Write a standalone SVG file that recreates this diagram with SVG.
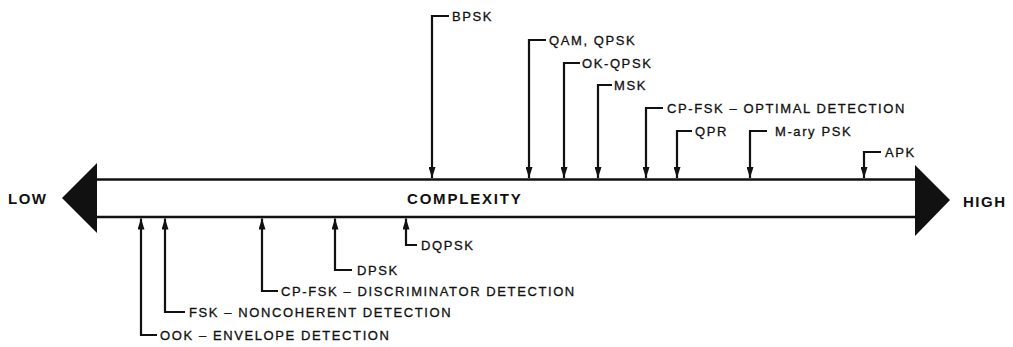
<svg xmlns="http://www.w3.org/2000/svg" width="1013" height="347" viewBox="0 0 1013 347">
<style>
.lbl{font-family:"Liberation Sans",Arial,sans-serif;font-size:13px;letter-spacing:1.6px;fill:#111;stroke:#111;stroke-width:0.3}
.big{font-family:"Liberation Sans",Arial,sans-serif;font-size:15px;font-weight:bold;letter-spacing:1.5px;fill:#111}
.cx{font-family:"Liberation Sans",Arial,sans-serif;font-size:15px;font-weight:bold;letter-spacing:1.8px;fill:#111}
.con{fill:none;stroke:#111;stroke-width:2.2;marker-end:url(#ah)}
.bar{stroke:#111;stroke-width:2.5;fill:none}
</style>
<defs>
<marker id="ah" viewBox="0 0 11 7" refX="11" refY="3.5" markerWidth="11" markerHeight="7" markerUnits="userSpaceOnUse" orient="auto">
<path d="M0,0 L11,3.5 L0,7 z" fill="#111"/>
</marker>
</defs>
<rect width="1013" height="347" fill="#fff"/>
<g id="axis">
<line class="bar" x1="96" y1="179.5" x2="916" y2="179.5"/>
<line class="bar" x1="96" y1="217" x2="916" y2="217"/>
<polygon points="62,198 97,163 97,233" fill="#111"/>
<polygon points="950,200 915,165 915,236" fill="#111"/>
<text class="big" x="8" y="203.5">LOW</text>
<text class="big" x="963" y="206.5">HIGH</text>
<text class="cx" x="407" y="204">COMPLEXITY</text>
</g>
<g id="connectors">
<path class="con" d="M449,16 H432 V178"/>
<path class="con" d="M546,40 H529 V178"/>
<path class="con" d="M580,63 H564 V178"/>
<path class="con" d="M612,85 H598 V178"/>
<path class="con" d="M663,108 H646 V178"/>
<path class="con" d="M692,131 H677 V178"/>
<path class="con" d="M767,131 H750 V178"/>
<path class="con" d="M881,152 H864 V178"/>
<path class="con" d="M157,335 H141 V218.5"/>
<path class="con" d="M185,312 H165 V218.5"/>
<path class="con" d="M278,291 H262 V218.5"/>
<path class="con" d="M352,270 H335 V218.5"/>
<path class="con" d="M417,245 H406 V218.5"/>
</g>
<g id="n-bpsk"><text class="lbl" x="452" y="21">BPSK</text></g>
<g id="n-qam"><text class="lbl" x="549" y="45">QAM, QPSK</text></g>
<g id="n-okqpsk"><text class="lbl" x="582" y="68">OK-QPSK</text></g>
<g id="n-msk"><text class="lbl" x="614" y="90">MSK</text></g>
<g id="n-cpfsk-opt"><text class="lbl" x="667" y="113">CP-FSK – OPTIMAL DETECTION</text></g>
<g id="n-qpr"><text class="lbl" x="695" y="136">QPR</text></g>
<g id="n-mary"><text class="lbl" x="775" y="136">M-ary PSK</text></g>
<g id="n-apk"><text class="lbl" x="885" y="157">APK</text></g>
<g id="n-ook"><text class="lbl" x="160" y="340">OOK – ENVELOPE DETECTION</text></g>
<g id="n-fsk"><text class="lbl" x="189" y="317">FSK – NONCOHERENT DETECTION</text></g>
<g id="n-cpfsk-disc"><text class="lbl" x="281" y="296">CP-FSK – DISCRIMINATOR DETECTION</text></g>
<g id="n-dpsk"><text class="lbl" x="357" y="275">DPSK</text></g>
<g id="n-dqpsk"><text class="lbl" x="421" y="250">DQPSK</text></g>
</svg>
